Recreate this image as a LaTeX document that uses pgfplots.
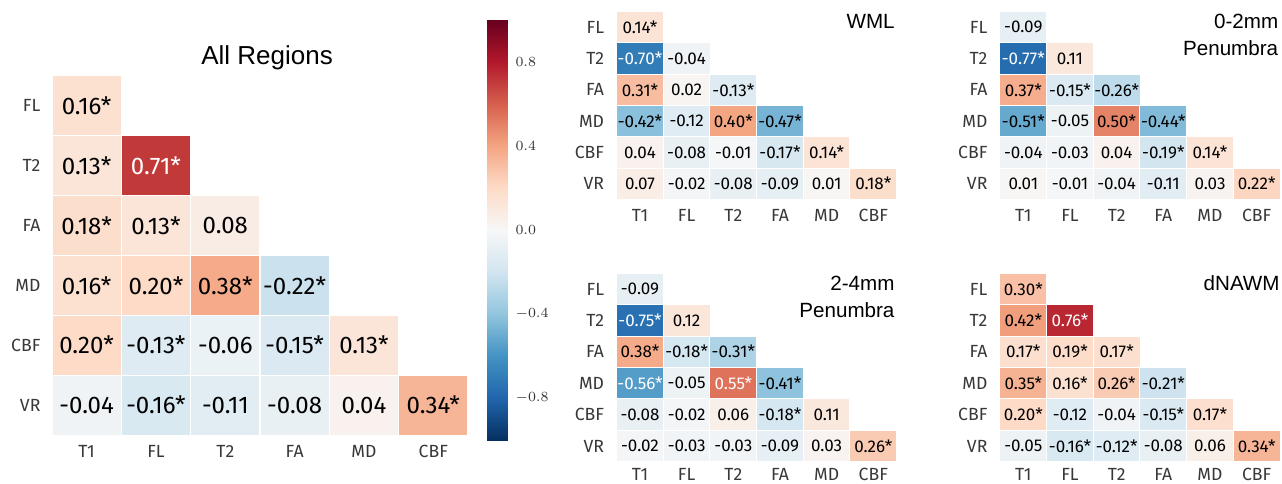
\documentclass[border=0pt]{standalone}
\usepackage{pgfplots}
\pgfplotsset{compat=1.18}
\usepackage{pgfplotstable}
\usepackage{fontspec}
\setmainfont{Fira Sans}
\newfontfamily\titlefont{Liberation Sans}

\pgfplotsset{colormap={rdbu}{rgb255=(5,48,97) rgb255=(33,102,172) rgb255=(67,147,195) rgb255=(146,197,222) rgb255=(209,229,240) rgb255=(247,247,247) rgb255=(253,219,199) rgb255=(244,165,130) rgb255=(214,96,77) rgb255=(178,24,43) rgb255=(103,0,31)}}

\pgfplotsset{
 hm/.style={scale only axis, anchor=south west,
   xmin=-0.5,xmax=5.5,ymin=-0.5,ymax=5.5,
   axis line style={draw=none}, tick style={draw=none},
   xtick={0,...,5}, ytick={0,...,5},
   xticklabels={T1,FL,T2,FA,MD,CBF}, yticklabels={VR,CBF,MD,FA,T2,FL},
   colormap name=rdbu, point meta min=-1, point meta max=1, clip=false,
   ticklabel style={text=black!78, font=\fontsize{8.8}{10}\selectfont}},
 cells/.style 2 args={scatter, only marks, mark=square*, mark size=1pt,
   scatter/use mapped color={draw=white, fill=mapped color},
   mark options={xscale=#1, yscale=#2, draw=white, line width=0.5pt}, point meta=explicit},
 labs/.style n args={3}{only marks, mark=none, point meta=explicit symbolic,
   nodes near coords,
   nodes near coords style={anchor=center, inner sep=0pt, text=#1, font=\fontsize{#2}{#3}\selectfont}},
 blk/.style={x filter/.expression={\thisrow{w}>0.5 ? nan : x}},
 wht/.style={x filter/.expression={\thisrow{w}<0.5 ? nan : x}},
}

\pgfplotstableread{
x y v w lab
0 5 0.16 0 0.16*
0 4 0.13 0 0.13*
1 4 0.71 1 0.71*
0 3 0.18 0 0.18*
1 3 0.13 0 0.13*
2 3 0.08 0 0.08
0 2 0.16 0 0.16*
1 2 0.20 0 0.20*
2 2 0.38 0 0.38*
3 2 -0.22 0 -0.22*
0 1 0.20 0 0.20*
1 1 -0.13 0 -0.13*
2 1 -0.06 0 -0.06
3 1 -0.15 0 -0.15*
4 1 0.13 0 0.13*
0 0 -0.04 0 -0.04
1 0 -0.16 0 -0.16*
2 0 -0.11 0 -0.11
3 0 -0.08 0 -0.08
4 0 0.04 0 0.04
5 0 0.34 0 0.34*
}\tabAll

\pgfplotstableread{
x y v w lab
0 5 0.14 0 0.14*
0 4 -0.70 1 -0.70*
1 4 -0.04 0 -0.04
0 3 0.31 0 0.31*
1 3 0.02 0 0.02
2 3 -0.13 0 -0.13*
0 2 -0.42 0 -0.42*
1 2 -0.12 0 -0.12
2 2 0.40 0 0.40*
3 2 -0.47 0 -0.47*
0 1 0.04 0 0.04
1 1 -0.08 0 -0.08
2 1 -0.01 0 -0.01
3 1 -0.17 0 -0.17*
4 1 0.14 0 0.14*
0 0 0.07 0 0.07
1 0 -0.02 0 -0.02
2 0 -0.08 0 -0.08
3 0 -0.09 0 -0.09
4 0 0.01 0 0.01
5 0 0.18 0 0.18*
}\tabWML

\pgfplotstableread{
x y v w lab
0 5 -0.09 0 -0.09
0 4 -0.77 1 -0.77*
1 4 0.11 0 0.11
0 3 0.37 0 0.37*
1 3 -0.15 0 -0.15*
2 3 -0.26 0 -0.26*
0 2 -0.51 0 -0.51*
1 2 -0.05 0 -0.05
2 2 0.50 0 0.50*
3 2 -0.44 0 -0.44*
0 1 -0.04 0 -0.04
1 1 -0.03 0 -0.03
2 1 0.04 0 0.04
3 1 -0.19 0 -0.19*
4 1 0.14 0 0.14*
0 0 0.01 0 0.01
1 0 -0.01 0 -0.01
2 0 -0.04 0 -0.04
3 0 -0.11 0 -0.11
4 0 0.03 0 0.03
5 0 0.22 0 0.22*
}\tabPa

\pgfplotstableread{
x y v w lab
0 5 -0.09 0 -0.09
0 4 -0.75 1 -0.75*
1 4 0.12 0 0.12
0 3 0.38 0 0.38*
1 3 -0.18 0 -0.18*
2 3 -0.31 0 -0.31*
0 2 -0.56 1 -0.56*
1 2 -0.05 0 -0.05
2 2 0.55 1 0.55*
3 2 -0.41 0 -0.41*
0 1 -0.08 0 -0.08
1 1 -0.02 0 -0.02
2 1 0.06 0 0.06
3 1 -0.18 0 -0.18*
4 1 0.11 0 0.11
0 0 -0.02 0 -0.02
1 0 -0.03 0 -0.03
2 0 -0.03 0 -0.03
3 0 -0.09 0 -0.09
4 0 0.03 0 0.03
5 0 0.26 0 0.26*
}\tabPb

\pgfplotstableread{
x y v w lab
0 5 0.30 0 0.30*
0 4 0.42 0 0.42*
1 4 0.76 1 0.76*
0 3 0.17 0 0.17*
1 3 0.19 0 0.19*
2 3 0.17 0 0.17*
0 2 0.35 0 0.35*
1 2 0.16 0 0.16*
2 2 0.26 0 0.26*
3 2 -0.21 0 -0.21*
0 1 0.20 0 0.20*
1 1 -0.12 0 -0.12
2 1 -0.04 0 -0.04
3 1 -0.15 0 -0.15*
4 1 0.17 0 0.17*
0 0 -0.05 0 -0.05
1 0 -0.16 0 -0.16*
2 0 -0.12 0 -0.12*
3 0 -0.08 0 -0.08
4 0 0.06 0 0.06
5 0 0.34 0 0.34*
}\tabN

\begin{document}
\begin{tikzpicture}
\useasboundingbox (0,0) rectangle (641pt,241.5pt);
% ---- All Regions ----
\begin{axis}[hm, at={(26pt,24pt)}, width=208pt, height=179.5pt,
  xticklabel style={anchor=center, inner sep=0pt, yshift=-8.35pt},
  yticklabel style={anchor=east, inner sep=0pt, xshift=-5.6pt},
  title={All Regions},
  title style={font=\titlefont\fontsize{13}{15}\selectfont, at={(0.517,1)}, anchor=base, yshift=0pt}]
\addplot[cells={17.33}{14.96}] table[x=x,y=y,meta=v]{\tabAll};
\addplot[labs={black}{12}{14}, blk] table[x=x,y=y,meta=lab]{\tabAll};
\addplot[labs={white}{12}{14}, wht] table[x=x,y=y,meta=lab]{\tabAll};
\end{axis}
% ---- colour bar ----
\begin{axis}[scale only axis, anchor=south west, at={(243.35pt,21.5pt)}, width=10.3pt, height=210pt,
  xmin=0, xmax=1, ymin=-1, ymax=1, colormap name=rdbu, point meta min=-1, point meta max=1,
  axis line style={draw=none}, tick style={draw=none}, xtick=\empty,
  ytick={-0.8,-0.4,0,0.4,0.8}, yticklabel pos=right,
  yticklabels={$-0.8$,$-0.4$,$0.0$,$0.4$,$0.8$},
  yticklabel style={font=\fontsize{7}{8}\selectfont, anchor=west, inner sep=0pt, xshift=3.9pt, text=black!80}]
\addplot[surf, shader=interp, mesh/cols=2, point meta=y] coordinates {
(0,-1) (1,-1) (0,-0.8) (1,-0.8) (0,-0.6) (1,-0.6) (0,-0.4) (1,-0.4) (0,-0.2) (1,-0.2)
(0,0) (1,0) (0,0.2) (1,0.2) (0,0.4) (1,0.4) (0,0.6) (1,0.6) (0,0.8) (1,0.8) (0,1) (1,1)};
\end{axis}
% ---- WML ----
\begin{axis}[hm, at={(308.33pt,141.85pt)}, width=140pt, height=93.8pt,
  xticklabel style={anchor=center, inner sep=0pt, yshift=-7.9pt},
  yticklabel style={anchor=east, inner sep=0pt, xshift=-6.1pt}]
\addplot[cells={11.67}{7.82}] table[x=x,y=y,meta=v]{\tabWML};
\addplot[labs={black}{8.5}{10}, blk] table[x=x,y=y,meta=lab]{\tabWML};
\addplot[labs={white}{8.5}{10}, wht] table[x=x,y=y,meta=lab]{\tabWML};
\node[anchor=base east, inner sep=0pt, xshift=-0.8pt, font=\titlefont\fontsize{10.3}{12}\selectfont] at (rel axis cs:1,0.9126) {WML};
\end{axis}
% ---- 0-2mm ----
\begin{axis}[hm, at={(500pt,141.85pt)}, width=140pt, height=93.8pt,
  xticklabel style={anchor=center, inner sep=0pt, yshift=-7.9pt},
  yticklabel style={anchor=east, inner sep=0pt, xshift=-6.1pt}]
\addplot[cells={11.67}{7.82}] table[x=x,y=y,meta=v]{\tabPa};
\addplot[labs={black}{8.5}{10}, blk] table[x=x,y=y,meta=lab]{\tabPa};
\addplot[labs={white}{8.5}{10}, wht] table[x=x,y=y,meta=lab]{\tabPa};
\node[anchor=base east, inner sep=0pt, xshift=-0.7pt, font=\titlefont\fontsize{10.3}{12}\selectfont] at (rel axis cs:1,0.9126) {0-2mm};
\node[anchor=base east, inner sep=0pt, xshift=-0.7pt, font=\titlefont\fontsize{10.3}{12}\selectfont] at (rel axis cs:1,0.7655) {Penumbra};
\end{axis}
% ---- 2-4mm ----
\begin{axis}[hm, at={(308.33pt,10.65pt)}, width=140pt, height=94.2pt,
  xticklabel style={anchor=center, inner sep=0pt, yshift=-6.3pt},
  yticklabel style={anchor=east, inner sep=0pt, xshift=-6.1pt}]
\addplot[cells={11.67}{7.85}] table[x=x,y=y,meta=v]{\tabPb};
\addplot[labs={black}{8.5}{10}, blk] table[x=x,y=y,meta=lab]{\tabPb};
\addplot[labs={white}{8.5}{10}, wht] table[x=x,y=y,meta=lab]{\tabPb};
\node[anchor=base east, inner sep=0pt, xshift=-0.9pt, font=\titlefont\fontsize{10.3}{12}\selectfont] at (rel axis cs:1,0.908) {2-4mm};
\node[anchor=base east, inner sep=0pt, xshift=-0.9pt, font=\titlefont\fontsize{10.3}{12}\selectfont] at (rel axis cs:1,0.766) {Penumbra};
\end{axis}
% ---- dNAWM ----
\begin{axis}[hm, at={(500pt,10.65pt)}, width=140pt, height=94.2pt,
  xticklabel style={anchor=center, inner sep=0pt, yshift=-6.3pt},
  yticklabel style={anchor=east, inner sep=0pt, xshift=-6.1pt}]
\addplot[cells={11.67}{7.85}] table[x=x,y=y,meta=v]{\tabN};
\addplot[labs={black}{8.5}{10}, blk] table[x=x,y=y,meta=lab]{\tabN};
\addplot[labs={white}{8.5}{10}, wht] table[x=x,y=y,meta=lab]{\tabN};
\node[anchor=base east, inner sep=0pt, xshift=0pt, font=\titlefont\fontsize{10.3}{12}\selectfont] at (rel axis cs:1,0.911) {dNAWM};
\end{axis}
\end{tikzpicture}
\end{document}
